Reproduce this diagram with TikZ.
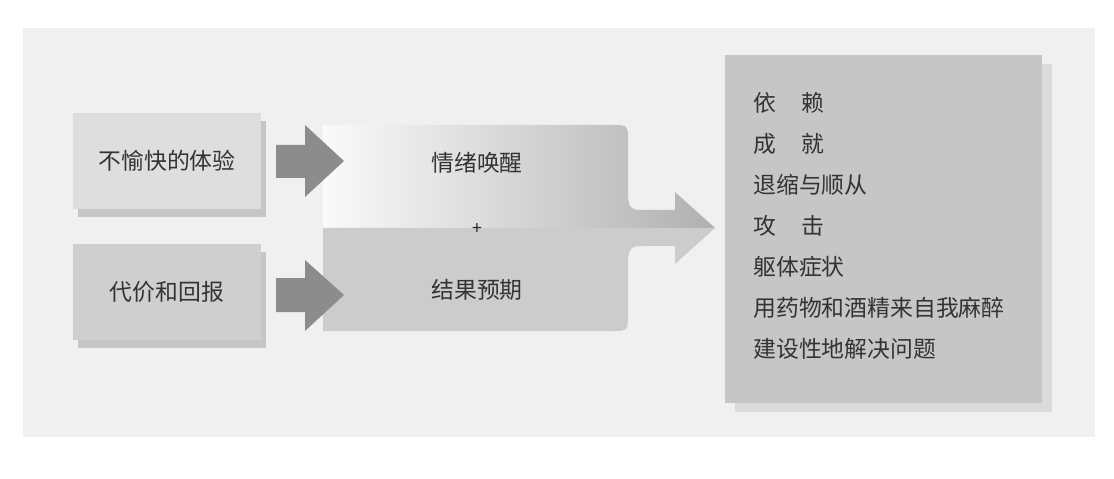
\documentclass[tikz,border=0pt]{standalone}
\usepackage{fontspec}
\newfontfamily\cjk{Noto Sans CJK SC}
\usetikzlibrary{positioning,shadows}

\tikzset{
	lbl/.style={font=\cjk\fontsize{13pt}{15pt}\selectfont, text=black!80},
	inbox/.style={lbl, minimum width=3.78cm, minimum height=1.94cm, inner sep=0pt,
		drop shadow={shadow xshift=0.1cm, shadow yshift=-0.16cm, fill=gray!45, opacity=1}},
	blockarrow/.style={fill=black!45}
}

\begin{document}
\begin{tikzpicture}[x=0.02cm, y=-0.02cm]
			\useasboundingbox (0,0) rectangle (1114,479);
			% Background
			\fill[gray!12] (23,28) rectangle (1095,437);
			% Input boxes
			\node[inbox, fill=gray!26] (unpleasant) at (167,161) {不愉快的体验};
			\node[inbox, fill=gray!38] (costs) at (167,292) {代价和回报};
			% Middle shape
			\shade[left color=gray!4, middle color=gray!18, right color=gray!62]
				(323,125) -- (611,125) .. controls (628,125) .. (628,142) -- (628,183)
				.. controls (628,210) .. (648,210) -- (675,210) -- (675,192) -- (715,228)
				-- (323,228) -- cycle;
			\fill[gray!40]
				(323,228) -- (715,228) -- (675,264) -- (675,246) -- (648,246)
				.. controls (628,246) .. (628,274) -- (628,314) .. controls (628,331) .. (611,331)
				-- (323,331) -- cycle;
			\node[lbl] (arousal) at (477,163) {情绪唤醒};
			\node[lbl, font=\cjk\fontsize{10pt}{12pt}\selectfont, text=black!85] (plus) at (477,229) {+};
			\node[lbl] (expect) at (477,290) {结果预期};
			% Block arrows
			\fill[blockarrow] (276,145) -- (305,145) -- (305,125) -- (344,161) -- (305,197) -- (305,178) -- (276,178) -- cycle;
			\fill[blockarrow] (276,278) -- (305,278) -- (305,260) -- (344,295) -- (305,331) -- (305,312) -- (276,312) -- cycle;
			% Outcomes
			\node[fill=gray!45, minimum width=6.34cm, minimum height=6.96cm, inner sep=0pt,
				drop shadow={shadow xshift=0.2cm, shadow yshift=-0.18cm, fill=gray!28, opacity=1}] (outcomes) at (883.5,229) {};
			\foreach \t [count=\i] in {依\hspace{1.1em}赖, 成\hspace{1.1em}就, 退缩与顺从, 攻\hspace{1.1em}击, 躯体症状, 用药物和酒精来自我麻醉, 建设性地解决问题} {
				\node[lbl, anchor=west, inner sep=0pt] (item\i) at (753, {103+41*(\i-1)}) {\t};
			}
		\end{tikzpicture}
\end{document}
